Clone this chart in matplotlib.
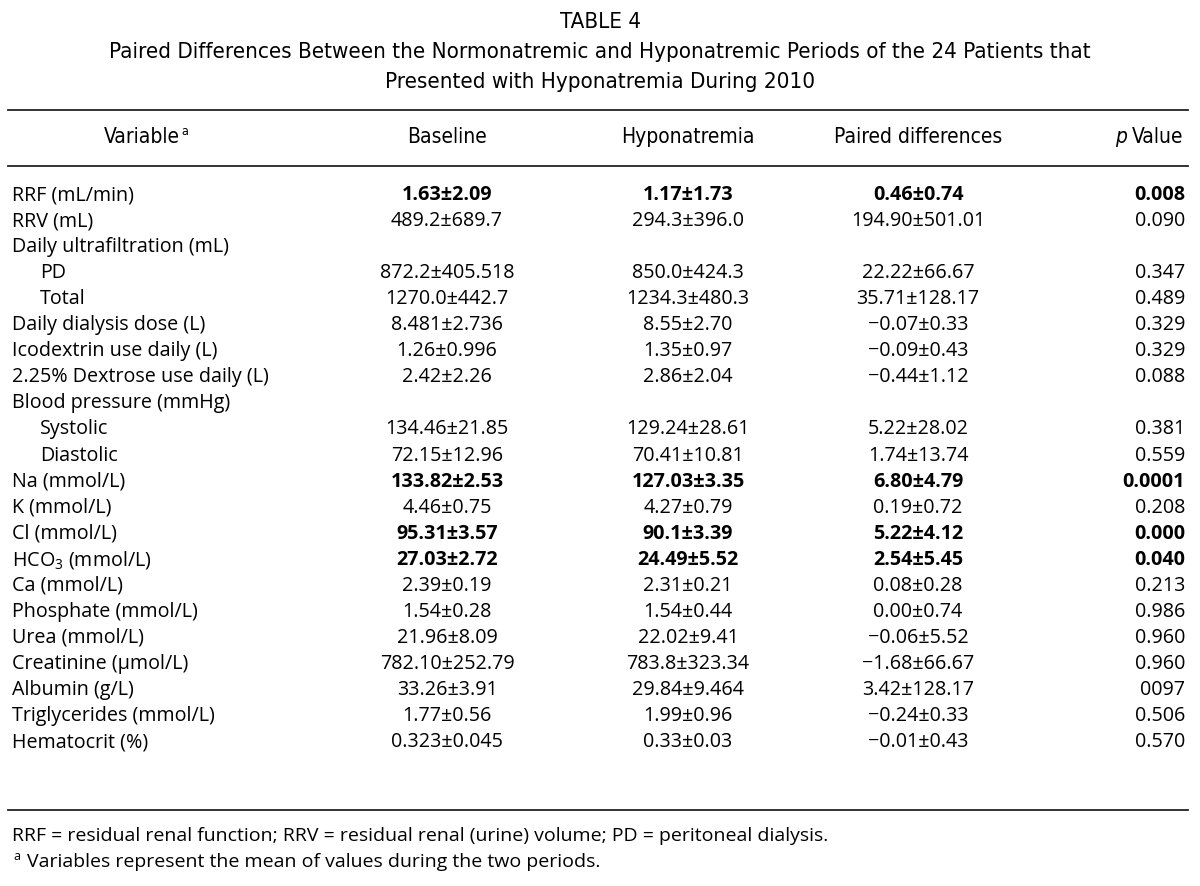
import matplotlib.pyplot as plt

# table content
variables = ["RRF (mL/min)", "RRV (mL)", "Daily ultrafiltration (mL)", "PD", "Total",
             "Daily dialysis dose (L)", "Icodextrin use daily (L)",
             "2.25% Dextrose use daily (L)", "Blood pressure (mmHg)", "Systolic",
             "Diastolic", "Na (mmol/L)", "K (mmol/L)", "Cl (mmol/L)",
             "HCO$_3$ (mmol/L)", "Ca (mmol/L)", "Phosphate (mmol/L)", "Urea (mmol/L)",
             "Creatinine (\u03bcmol/L)", "Albumin (g/L)", "Triglycerides (mmol/L)",
             "Hematocrit (%)"]
baseline = ["1.63±2.09", "489.2±689.7", "", "872.2±405.518", "1270.0±442.7",
            "8.481±2.736", "1.26±0.996", "2.42±2.26", "", "134.46±21.85",
            "72.15±12.96", "133.82±2.53", "4.46±0.75", "95.31±3.57", "27.03±2.72",
            "2.39±0.19", "1.54±0.28", "21.96±8.09", "782.10±252.79", "33.26±3.91",
            "1.77±0.56", "0.323±0.045"]
hypo = ["1.17±1.73", "294.3±396.0", "", "850.0±424.3", "1234.3±480.3",
        "8.55±2.70", "1.35±0.97", "2.86±2.04", "", "129.24±28.61",
        "70.41±10.81", "127.03±3.35", "4.27±0.79", "90.1±3.39", "24.49±5.52",
        "2.31±0.21", "1.54±0.44", "22.02±9.41", "783.8±323.34", "29.84±9.464",
        "1.99±0.96", "0.33±0.03"]
diffs = ["0.46±0.74", "194.90±501.01", "", "22.22±66.67", "35.71±128.17",
         "\u22120.07±0.33", "\u22120.09±0.43", "\u22120.44±1.12", "", "5.22±28.02",
         "1.74±13.74", "6.80±4.79", "0.19±0.72", "5.22±4.12", "2.54±5.45",
         "0.08±0.28", "0.00±0.74", "\u22120.06±5.52", "\u22121.68±66.67", "3.42±128.17",
         "\u22120.24±0.33", "\u22120.01±0.43"]
pvals = ["0.008", "0.090", "", "0.347", "0.489", "0.329", "0.329", "0.088", "",
         "0.381", "0.559", "0.0001", "0.208", "0.000", "0.040", "0.213", "0.986",
         "0.960", "0.960", "0097", "0.506", "0.570"]
bold_rows = ["RRF (mL/min)", "Na (mmol/L)", "Cl (mmol/L)", "HCO$_3$ (mmol/L)"]
indented = ["PD", "Total", "Systolic", "Diastolic"]

body_font = "Open Sans"
head = dict(family="DejaVu Sans", stretch="condensed")
plt.rcParams['mathtext.fontset'] = 'custom'
plt.rcParams['mathtext.rm'] = body_font
plt.rcParams['mathtext.it'] = body_font + ":italic"

fig = plt.figure(figsize=(12, 8.86), dpi=100)
ax = fig.add_axes([0, 0, 1, 1])
ax.set_xlim(0, 1200)
ax.set_ylim(886, 0)
ax.axis('off')

# title
ax.text(600, 22, "TABLE 4", ha='center', va='center', fontsize=16, **head)
ax.text(600, 52, "Paired Differences Between the Normonatremic and Hyponatremic Periods of the 24 Patients that",
        ha='center', va='center', fontsize=16, **head)
ax.text(600, 82, "Presented with Hyponatremia During 2010", ha='center', va='center',
        fontsize=16, **head)

# rules
for y in [110, 166, 810]:
    ax.plot([8, 1188], [y, y], color='#222222', lw=1.3)

# column headers
col_x = [447, 688, 918]
ax.text(104, 137, "Variable", ha='left', va='center', fontsize=15, **head)
ax.text(181, 131, "a", ha='left', va='center', fontsize=9, **head)
for x, h in zip(col_x, ["Baseline", "Hyponatremia", "Paired differences"]):
    ax.text(x, 137, h, ha='center', va='center', fontsize=15, **head)
ax.text(1183, 137, "Value", ha='right', va='center', fontsize=15, **head)
ax.text(1127, 137, "p", ha='right', va='center', fontsize=15, style='italic', **head)

# rows
y0, dy = 195, 26.05
for i, var in enumerate(variables):
    y = y0 + i * dy
    x = 40 if var in indented else 12
    ax.text(x, y, var, ha='left', va='center', fontsize=14.2, family=body_font)
    w = 'bold' if var in bold_rows else 'normal'
    for cx, vals in zip(col_x, [baseline, hypo, diffs]):
        ax.text(cx, y, vals[i], ha='center', va='center', fontsize=14.2,
                family=body_font, weight=w)
    ax.text(1185, y, pvals[i], ha='right', va='center', fontsize=14.2,
            family=body_font, weight=w)

# footnotes
ax.text(12, 836, "RRF = residual renal function; RRV = residual renal (urine) volume; PD = peritoneal dialysis.",
        ha='left', va='center', fontsize=14, family=body_font)
ax.text(13, 857, "a", ha='left', va='center', fontsize=9, family=body_font)
ax.text(27, 862, "Variables represent the mean of values during the two periods.",
        ha='left', va='center', fontsize=14, family=body_font)

fig.savefig("out.png", dpi=100)
